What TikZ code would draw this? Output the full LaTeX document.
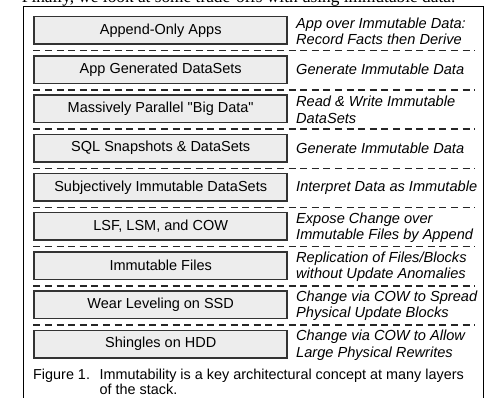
\documentclass[tikz,border=0pt]{standalone}
\usepackage{fontspec}
\setmainfont{Liberation Sans}
\newfontfamily\plainsans{Liberation Sans}
\newfontfamily\leadserif{Liberation Serif}
\tikzstyle{layer}=[rectangle, draw=black!80, fill=black!7, line width=1.5pt, minimum width=253pt, minimum height=27.5pt, inner sep=0pt, font=\plainsans\fontsize{14.5}{16.5}\selectfont]
\tikzstyle{role}=[anchor=west, inner sep=0pt, align=left, font=\fontsize{14.6}{16.5}\selectfont\itshape]
\tikzstyle{sepline}=[draw=black!85, line width=1.4pt, dash pattern=on 7pt off 4.6pt]

\begin{document}
\begin{tikzpicture}[x=1pt,y=-1pt]
                    \useasboundingbox (0,0) rectangle (491,398);
                    \clip (0,0) rectangle (491,398);
                    \node[anchor=base west, inner sep=0pt, font=\leadserif\fontsize{17.3}{20}\selectfont] (lead) at (21.7,2.7) {Finally, we look at some trade-offs with using immutable data.};
                    \draw[line width=0.9pt] (23.3,6.7) rectangle (483,420);
                    \node[layer] (apps) at (160.7,30.5) {Append-Only Apps};
                    \node[layer] (gen) at (160.7,69.7) {App Generated DataSets};
                    \node[layer] (bigdata) at (160.7,108.9) {Massively Parallel "Big Data"};
                    \node[layer] (sql) at (160.7,148.1) {SQL Snapshots \& DataSets};
                    \node[layer] (subj) at (160.7,187.3) {Subjectively Immutable DataSets};
                    \node[layer] (lsf) at (160.7,226.5) {LSF, LSM, and COW};
                    \node[layer] (files) at (160.7,265.7) {Immutable Files};
                    \node[layer] (ssd) at (160.7,304.9) {Wear Leveling on SSD};
                    \node[layer] (hdd) at (160.7,344.1) {Shingles on HDD};
                    \node[role] (apps-r) at (296,31.5) {App over Immutable Data:\\Record Facts then Derive};
                    \node[role] (gen-r) at (296,69.7) {Generate Immutable Data};
                    \node[role] (bigdata-r) at (296,109.9) {Read \& Write Immutable\\DataSets};
                    \node[role] (sql-r) at (296,148.1) {Generate Immutable Data};
                    \node[role] (subj-r) at (296,187.3) {Interpret Data as Immutable};
                    \node[role] (lsf-r) at (296,227.5) {Expose Change over\\Immutable Files by Append};
                    \node[role] (files-r) at (296,266.7) {Replication of Files/Blocks\\without Update Anomalies};
                    \node[role] (ssd-r) at (296,305.9) {Change via COW to Spread\\Physical Update Blocks};
                    \node[role] (hdd-r) at (296,345.1) {Change via COW to Allow\\Large Physical Rewrites};
                    \draw[sepline] (33.3,50.8) -- (475,50.8);
                    \draw[sepline] (33.3,90) -- (475,90);
                    \draw[sepline] (33.3,129.2) -- (475,129.2);
                    \draw[sepline] (33.3,168.4) -- (475,168.4);
                    \draw[sepline] (33.3,207.6) -- (475,207.6);
                    \draw[sepline] (33.3,246.8) -- (475,246.8);
                    \draw[sepline] (33.3,286) -- (475,286);
                    \draw[sepline] (33.3,325.2) -- (475,325.2);
                    \node[anchor=north west, inner sep=0pt, align=left, font=\fontsize{14.4}{15.5}\selectfont] (caption) at (33,368.5) {\makebox[66.5pt][l]{Figure 1.}Immutability is a key architectural concept at many layers\\\hspace*{66.5pt}of the stack.};
                    \end{tikzpicture}
\end{document}
